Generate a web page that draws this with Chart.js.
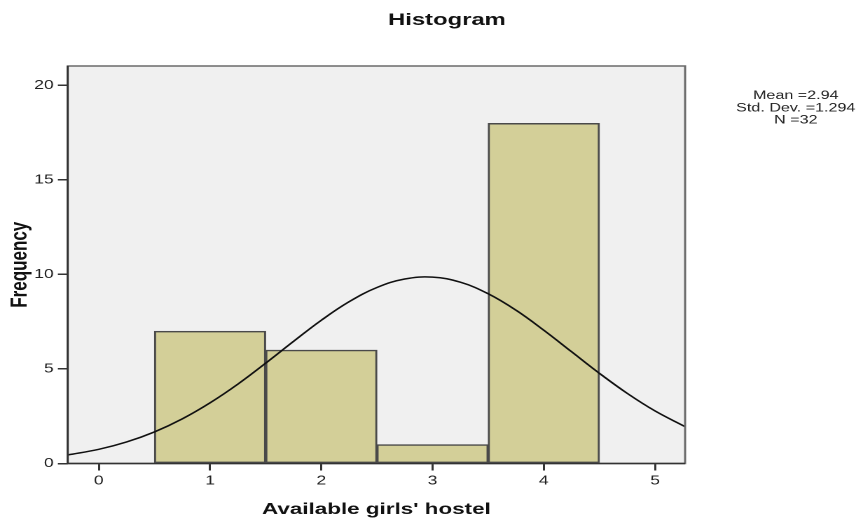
<!DOCTYPE html>
<html>
<head>
<meta charset="utf-8">
<script src="https://cdn.jsdelivr.net/npm/chart.js@4.4.1/dist/chart.umd.min.js"></script>
<style>
  html, body { margin: 0; padding: 0; background: #fff; overflow: hidden; }
  /* the reference is an SPSS chart stretched sideways, so draw narrow and stretch */
  #wrap { width: 611px; height: 520px; transform: scaleX(1.401); transform-origin: 0 0; }
  #chart { width: 611px; height: 520px; display: block; }
</style>
</head>
<body>
<div id="wrap"><canvas id="chart" width="611" height="520"></canvas></div>
<script>
'use strict';

var binCenters = [1, 2, 3, 4];
var frequencies = [7, 6, 1, 18];

// normal curve
var curveX = [-0.28, 0, 0.25, 0.5, 0.75, 1, 1.25, 1.5, 1.75, 2, 2.25, 2.5, 2.75, 3, 3.25, 3.5, 3.75, 4, 4.25, 4.5, 4.75, 5, 5.27];
var curveY = [0.45, 0.75, 1.14, 1.67, 2.36, 3.21, 4.2, 5.31, 6.46, 7.58, 8.56, 9.31, 9.76, 9.86, 9.59, 8.98, 8.11, 7.05, 5.91, 4.77, 3.71, 2.78, 1.95];

var xTicks = [0, 1, 2, 3, 4, 5];
var yTicks = [0, 5, 10, 15, 20];

var chartTitle = 'Histogram';
var xTitle = "Available girls' hostel";
var yTitle = 'Frequency';
var statsLines = ['Mean =2.94', 'Std. Dev. =1.294', 'N =32'];

var FONT = "'Liberation Sans', Arial, sans-serif";

var frame = {
  id: 'frame',
  beforeDraw: function (chart) {
    var a = chart.chartArea, ctx = chart.ctx;
    ctx.save();
    ctx.fillStyle = '#f0f0f0';
    ctx.fillRect(a.left, a.top, a.right - a.left, a.bottom - a.top);
    ctx.restore();
  },
  afterDatasetsDraw: function (chart) {
    var a = chart.chartArea, ctx = chart.ctx;
    ctx.save();
    ctx.lineWidth = 1.5;
    ctx.strokeStyle = '#6a6a6a';
    ctx.strokeRect(a.left, a.top, a.right - a.left, a.bottom - a.top);
    ctx.strokeStyle = '#333';
    ctx.beginPath();
    ctx.moveTo(a.left, a.top);
    ctx.lineTo(a.left, a.bottom);
    ctx.lineTo(a.right, a.bottom);
    ctx.stroke();
    ctx.restore();
  },
  afterDraw: function (chart) {
    var ctx = chart.ctx;
    ctx.save();
    ctx.fillStyle = '#111';
    ctx.textAlign = 'center';
    ctx.textBaseline = 'middle';
    ctx.font = 'bold 17px ' + FONT;
    ctx.fillText(chartTitle, 319, 20.5);
    ctx.font = '11.5px ' + FONT;
    ctx.fillStyle = '#222';
    statsLines.forEach(function (t, i) {
      ctx.fillText(t, 568, 96 + i * 12.2);
    });
    ctx.restore();
  }
};

new Chart(document.getElementById('chart'), {
  data: {
    datasets: [{
      type: 'line',
      order: 0,
      data: curveX.map(function (x, i) { return { x: x, y: curveY[i] }; }),
      borderColor: '#111',
      borderWidth: 1.5,
      pointRadius: 0,
      tension: 0.4,
      fill: false
    }, {
      type: 'bar',
      order: 1,
      data: binCenters.map(function (x, i) { return { x: x, y: frequencies[i] }; }),
      backgroundColor: '#d3cf98',
      borderColor: '#4a4a4a',
      borderWidth: 1.5,
      borderSkipped: false,
      barPercentage: 1,
      categoryPercentage: 1
    }]
  },
  options: {
    responsive: false,
    devicePixelRatio: 2,
    animation: false,
    layout: { padding: { top: 66, right: 122, bottom: 0, left: 0 } },
    plugins: { legend: { display: false }, tooltip: { enabled: false } },
    scales: {
      x: {
        type: 'linear',
        min: -0.28,
        max: 5.27,
        offset: false,
        afterBuildTicks: function (s) { s.ticks = xTicks.map(function (v) { return { value: v }; }); },
        afterFit: function (s) { s.height = 56.5; },
        border: { display: false },
        grid: { display: true, drawOnChartArea: false, drawTicks: true, tickLength: 7, color: '#333', lineWidth: 1.5, offset: false },
        ticks: { color: '#222', font: { family: FONT, size: 12.5 }, padding: 3, maxRotation: 0 },
        title: { display: true, text: xTitle, color: '#111', font: { family: FONT, size: 16, weight: 'bold' }, padding: { top: 3, bottom: 1 } }
      },
      y: {
        type: 'linear',
        min: 0,
        max: 21.03,
        afterBuildTicks: function (s) { s.ticks = yTicks.map(function (v) { return { value: v }; }); },
        afterFit: function (s) { s.width = 48.3; },
        border: { display: false },
        grid: { display: true, drawOnChartArea: false, drawTicks: true, tickLength: 7, color: '#333', lineWidth: 1.5 },
        ticks: { color: '#222', font: { family: FONT, size: 12.5 }, padding: 3 },
        title: { display: true, text: yTitle, color: '#111', font: { family: FONT, size: 17, weight: 'bold' }, padding: { top: 4, bottom: 4 } }
      }
    }
  },
  plugins: [frame]
});
</script>
</body>
</html>
